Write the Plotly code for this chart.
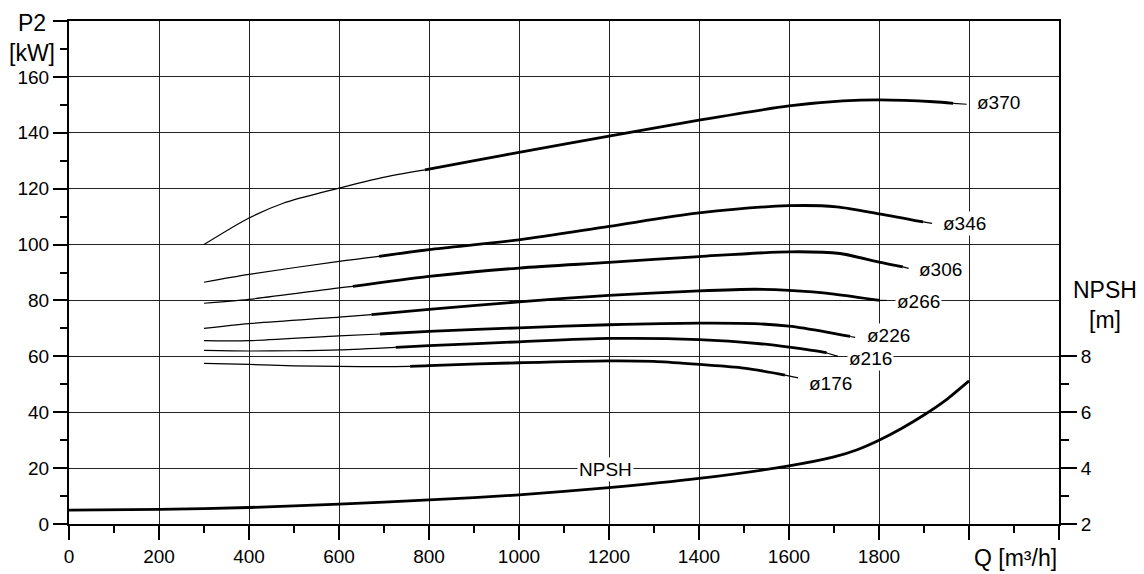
import plotly.graph_objects as go

# ---------------- data ----------------
# power curves P2 [kW] vs Q [m3/h]; thick section between *_thick limits
q370 = [300, 400, 476, 600, 691, 791, 913, 1000, 1200, 1400, 1600, 1720, 1800, 1921, 1965, 1995]
p370 = [100, 109.5, 114.8, 120.2, 123.8, 126.7, 130.4, 133, 138.8, 144.5, 149.6, 151.4, 151.8, 151.1, 150.5, 150.2]
thick370 = (791, 1965)

q346 = [300, 400, 600, 689, 800, 1000, 1200, 1400, 1600, 1706, 1800, 1898, 1918]
p346 = [86.5, 89.3, 94, 95.8, 98.2, 101.7, 106.5, 111.3, 113.9, 113.5, 111, 108.1, 107.6]
thick346 = (689, 1898)

q306 = [300, 400, 600, 631, 800, 1000, 1200, 1400, 1600, 1713, 1800, 1853, 1866]
p306 = [79, 80.4, 84.5, 85, 88.6, 91.6, 93.6, 95.7, 97.4, 96.8, 93.7, 92, 91.5]
thick306 = (631, 1853)

q266 = [300, 400, 600, 672, 800, 1000, 1200, 1400, 1524, 1600, 1700, 1802, 1817]
p266 = [70, 71.7, 74, 74.9, 76.8, 79.5, 81.8, 83.4, 84.0, 83.6, 82.3, 80, 80]
thick266 = (672, 1802)

q226 = [300, 400, 600, 691, 800, 1000, 1200, 1400, 1524, 1600, 1684, 1736, 1747]
p226 = [65.6, 65.6, 67.3, 68, 68.9, 70.2, 71.3, 71.9, 71.7, 70.8, 68.7, 67.1, 66.8]
thick226 = (691, 1736)

q216 = [300, 400, 500, 600, 726, 800, 1000, 1200, 1400, 1536, 1600, 1676, 1684, 1709]
p216 = [62.1, 61.9, 62.0, 62.3, 63.2, 63.8, 65.2, 66.4, 66.0, 64.5, 63.3, 61.5, 61.2, 60]
thick216 = (726, 1684)

q176 = [300, 400, 500, 600, 700, 758, 800, 1000, 1200, 1300, 1400, 1500, 1591, 1620]
p176 = [57.5, 57.1, 56.6, 56.4, 56.3, 56.4, 56.7, 57.7, 58.4, 58.2, 57.1, 55.8, 53.3, 52.3]
thick176 = (758, 1591)

# NPSH [m] vs Q
q_npsh = [0, 200, 400, 600, 800, 1000, 1200, 1400, 1600, 1700, 1750, 1800, 1850, 1900, 1950, 2000]
npsh = [2.50, 2.52, 2.59, 2.71, 2.86, 3.04, 3.30, 3.63, 4.08, 4.40, 4.65, 5.00, 5.42, 5.90, 6.45, 7.12]

curve_names = ["ø370", "ø346", "ø306", "ø266", "ø226", "ø216", "ø176"]
curve_q = [q370, q346, q306, q266, q226, q216, q176]
curve_p = [p370, p346, p306, p266, p226, p216, p176]
curve_thick = [thick370, thick346, thick306, thick266, thick226, thick216, thick176]
# label anchor (left edge Q, centre P)
label_q = [2013, 1937, 1884, 1836, 1769, 1728, 1639]
label_p = [150.9, 107.6, 91.0, 79.6, 67.5, 59.2, 50.2]

x_ticks = [0, 200, 400, 600, 800, 1000, 1200, 1400, 1600, 1800, 2000, 2200]
x_ticktext = ["0", "200", "400", "600", "800", "1000", "1200", "1400", "1600", "1800", "", ""]
y_ticks = [0, 20, 40, 60, 80, 100, 120, 140, 160, 180]
y_ticktext = ["0", "20", "40", "60", "80", "100", "120", "140", "160", ""]
y2_ticks = [2, 4, 6, 8]
y2_minor = [3, 5, 7]

FONT = "Liberation Sans, Arial, Helvetica, sans-serif"
THIN = 1.2
THICK = 2.8

fig = go.Figure()

for q, p, (t0, t1) in zip(curve_q, curve_p, curve_thick):
    segs = [
        ([a for a in q if a <= t0], [b for a, b in zip(q, p) if a <= t0], THIN),
        ([a for a in q if t0 <= a <= t1], [b for a, b in zip(q, p) if t0 <= a <= t1], THICK),
        ([a for a in q if a >= t1], [b for a, b in zip(q, p) if a >= t1], THIN),
    ]
    for xs, ys, w in segs:
        if len(xs) >= 2:
            fig.add_trace(go.Scatter(
                x=xs, y=ys, mode="lines",
                line=dict(color="black", width=w, shape="spline", smoothing=0.8),
                showlegend=False, hoverinfo="skip"))

fig.add_trace(go.Scatter(
    x=q_npsh, y=npsh, mode="lines", yaxis="y2",
    line=dict(color="black", width=THICK, shape="spline", smoothing=0.6),
    showlegend=False, hoverinfo="skip"))

for name, lq, lp in zip(curve_names, label_q, label_p):
    fig.add_annotation(x=lq, y=lp, xref="x", yref="y", text=name,
                       showarrow=False, xanchor="left", yanchor="middle",
                       font=dict(family=FONT, size=19, color="black"),
                       bgcolor="white", borderpad=1)

fig.add_annotation(x=1193, y=3.96, xref="x", yref="y2", text="NPSH",
                   showarrow=False, xanchor="center", yanchor="middle",
                   font=dict(family=FONT, size=19, color="black"),
                   bgcolor="white", borderpad=1)

# axis titles
fig.add_annotation(x=0, y=180, xref="paper", yref="y", text="P2", showarrow=False,
                   xanchor="right", yanchor="middle", xshift=-21, yshift=-2,
                   font=dict(family=FONT, size=23, color="black"))
fig.add_annotation(x=0, y=170, xref="paper", yref="y", text="[kW]", showarrow=False,
                   xanchor="right", yanchor="middle", xshift=-12, yshift=-4,
                   font=dict(family=FONT, size=23, color="black"))
fig.add_annotation(x=1, y=10.39, xref="paper", yref="y2", text="NPSH", showarrow=False,
                   xanchor="center", yanchor="middle", xshift=46,
                   font=dict(family=FONT, size=23, color="black"))
fig.add_annotation(x=1, y=9.29, xref="paper", yref="y2", text="[m]", showarrow=False,
                   xanchor="center", yanchor="middle", xshift=46,
                   font=dict(family=FONT, size=23, color="black"))
fig.add_annotation(x=1, y=0, xref="paper", yref="paper", text="Q [m³/h]", showarrow=False,
                   xanchor="right", yanchor="middle", yshift=-34, xshift=0,
                   font=dict(family=FONT, size=23, color="black"))

GRID = "#222222"
fig.update_layout(
    width=1144, height=574,
    margin=dict(l=69, r=85, t=21, b=50, pad=0, autoexpand=False),
    paper_bgcolor="white", plot_bgcolor="white",
    font=dict(family=FONT, size=19, color="black"),
    xaxis=dict(range=[0, 2200], tickvals=x_ticks, ticktext=x_ticktext,
               automargin=False,
               showgrid=True, gridcolor=GRID, gridwidth=1, zeroline=False,
               showline=True, linecolor="black", linewidth=2, mirror=True,
               ticks="outside", ticklen=14, tickwidth=1.5, tickcolor="black",
               minor=dict(dtick=100, tick0=0, ticks="outside", ticklen=7,
                          tickwidth=1.5, tickcolor="black", showgrid=False),
               tickfont=dict(size=19)),
    yaxis=dict(range=[0, 180], tickvals=y_ticks, ticktext=y_ticktext,
               automargin=False,
               showgrid=True, gridcolor=GRID, gridwidth=1, zeroline=False,
               showline=True, linecolor="black", linewidth=2,
               ticks="outside", ticklen=14, tickwidth=1.5, tickcolor="black",
               minor=dict(dtick=10, tick0=0, ticks="outside", ticklen=7,
                          tickwidth=1.5, tickcolor="black", showgrid=False),
               tickfont=dict(size=19)),
    yaxis2=dict(range=[2, 20], overlaying="y", side="right", tickvals=y2_ticks,
                automargin=False,
                showgrid=False, zeroline=False,
                showline=True, linecolor="black", linewidth=2,
                ticks="outside", ticklen=16, tickwidth=1.5, tickcolor="black",
                minor=dict(tickvals=y2_minor, ticks="outside", ticklen=8,
                           tickwidth=1.5, tickcolor="black", showgrid=False),
                tickfont=dict(size=19)),
)

fig.write_html("out.html", config={"displayModeBar": False},
               post_script="document.body.style.margin='0';")
